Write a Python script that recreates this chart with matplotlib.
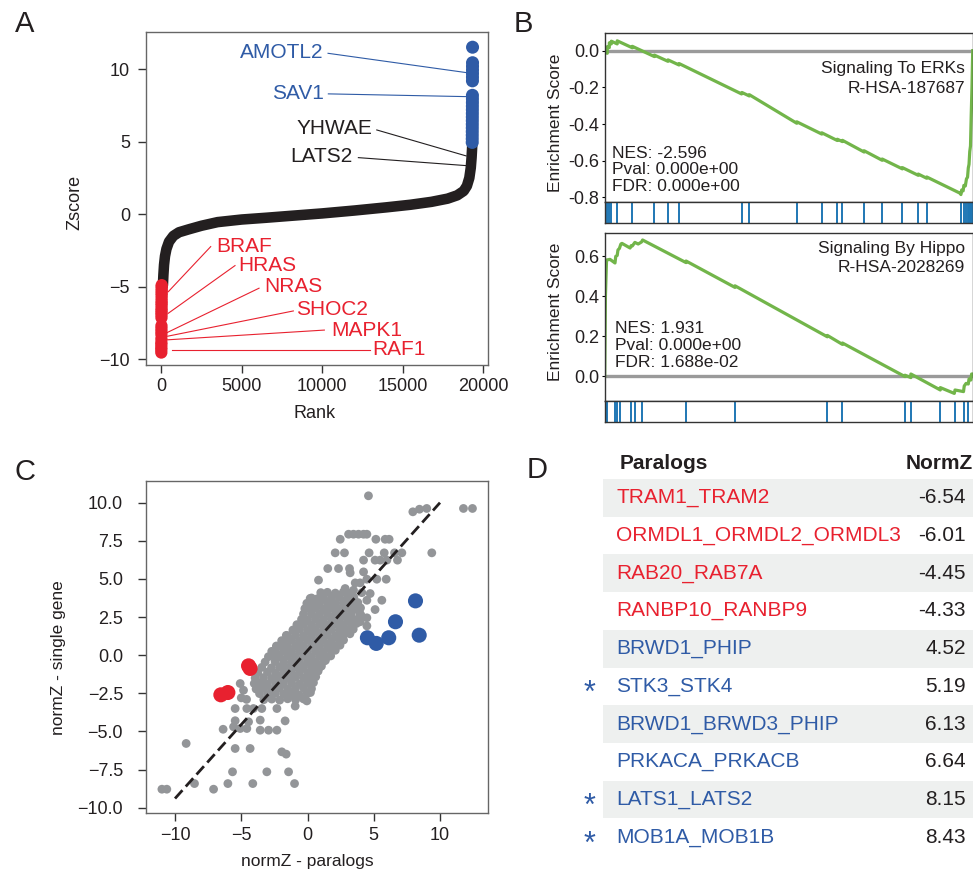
import matplotlib
matplotlib.use('Agg')
import matplotlib.pyplot as plt
from matplotlib.patches import Rectangle

plt.rcParams['font.family'] = ['Liberation Sans', 'DejaVu Sans']
plt.rcParams['axes.linewidth'] = 1.0

# ======================= DATA =======================
# ---- Panel A: ranked gene Z-scores ----
n_genes = 19350
curve_rank = [100, 130, 170, 230, 320, 480, 750, 1100, 1700, 2500, 3500, 5000, 6500, 8000,
              10000, 12000, 14000, 15500, 16800, 17800, 18400, 18800, 19000, 19150, 19240,
              19290, 19320, 19330]
curve_z = [-4.9, -4.2, -3.5, -2.9, -2.4, -1.9, -1.5, -1.25, -1.05, -0.8, -0.55, -0.37, -0.25, -0.12,
           0.05, 0.25, 0.47, 0.65, 0.85, 1.07, 1.3, 1.6, 1.95, 2.5, 3.2, 3.9, 4.5, 4.75]
red_z = [-9.55, -9.35, -9.2, -9.0, -8.85, -8.6, -8.3, -8.1, -7.9, -7.7, -7.15, -6.95, -6.8,
         -6.65, -6.5, -6.3, -6.15, -6.0, -5.8, -5.6, -5.45, -5.3, -5.15, -5.0, -4.9]
blue_z = [4.95, 5.2, 5.45, 5.7, 5.95, 6.2, 6.45, 6.7, 6.95, 7.2, 7.45, 7.7, 7.95, 8.2,
          9.2, 9.45, 9.7, 9.95, 10.2, 10.45, 11.52]
a_up_labels = ['AMOTL2', 'SAV1', 'YHWAE', 'LATS2']
a_down_labels = ['BRAF', 'HRAS', 'NRAS', 'SHOC2', 'MAPK1', 'RAF1']
a_xticks = [0, 5000, 10000, 15000, 20000]
a_yticks = [-10, -5, 0, 5, 10]

# ---- Panel B: GSEA running enrichment scores (x = fraction of ranked list) ----
erk_x = [0.000, 0.004, 0.007, 0.007, 0.0125, 0.0125, 0.018, 0.018, 0.034, 0.034, 0.075, 0.075,
         0.135, 0.135, 0.172, 0.172, 0.202, 0.202, 0.372, 0.373, 0.393, 0.393, 0.522, 0.522,
         0.590, 0.590, 0.632, 0.632, 0.646, 0.646, 0.705, 0.705, 0.754, 0.754, 0.809, 0.809,
         0.852, 0.852, 0.875, 0.875, 0.966, 0.968, 0.970, 0.974, 0.976, 0.980, 0.983, 0.986,
         0.988, 0.990, 0.992, 0.994, 0.996, 0.998, 1.000]
erk_y = [0.000, -0.012, -0.014, 0.022, 0.017, 0.043, 0.037, 0.052, 0.037, 0.054, 0.016, 0.024,
         -0.032, -0.024, -0.058, -0.050, -0.078, -0.070, -0.236, -0.228, -0.247, -0.240, -0.396, -0.388,
         -0.455, -0.448, -0.490, -0.483, -0.496, -0.489, -0.553, -0.546, -0.598, -0.591, -0.645, -0.638,
         -0.680, -0.673, -0.696, -0.689, -0.778, -0.785, -0.760, -0.765, -0.735, -0.738, -0.700, -0.690,
         -0.640, -0.620, -0.550, -0.520, -0.350, -0.200, 0.000]
erk_hits = [0.007, 0.0125, 0.018, 0.034, 0.075, 0.135, 0.172, 0.202, 0.373, 0.393, 0.522, 0.590,
            0.632, 0.646, 0.705, 0.754, 0.809, 0.852, 0.875, 0.967, 0.976, 0.981, 0.986,
            0.990, 0.993, 0.996, 0.999]
hippo_x = [0.000, 0.002, 0.005, 0.0145, 0.028, 0.030, 0.034, 0.036, 0.040, 0.044, 0.047, 0.069,
           0.072, 0.075, 0.082, 0.091, 0.100, 0.103, 0.221, 0.221, 0.354, 0.354, 0.605, 0.605,
           0.646, 0.646, 0.816, 0.816, 0.832, 0.832, 0.912, 0.912, 0.950, 0.952, 0.975, 0.977,
           0.982, 0.988, 0.990, 0.995, 0.997, 1.000]
hippo_y = [0.000, 0.400, 0.580, 0.583, 0.565, 0.598, 0.603, 0.630, 0.638, 0.660, 0.663, 0.640,
           0.652, 0.650, 0.668, 0.660, 0.670, 0.680, 0.567, 0.575, 0.443, 0.451, 0.196, 0.203,
           0.158, 0.165, -0.003, 0.004, -0.008, 0.010, -0.070, -0.058, -0.087, -0.070, -0.078, -0.050,
           -0.037, -0.040, -0.015, -0.020, 0.010, 0.010]
hippo_hits = [0.001, 0.003, 0.005, 0.028, 0.034, 0.042, 0.072, 0.082, 0.100, 0.221, 0.354, 0.605,
              0.646, 0.816, 0.832, 0.912, 0.952, 0.977, 0.988]
b_names = ['Signaling To ERKs', 'Signaling By Hippo']
b_ids = ['R-HSA-187687', 'R-HSA-2028269']
b_nes = ['-2.596', '1.931']
b_pval = ['0.000e+00', '0.000e+00']
b_fdr = ['0.000e+00', '1.688e-02']
b1_yticks = [0.0, -0.2, -0.4, -0.6, -0.8]
b1_yticklabels = ['0.0', '-0.2', '-0.4', '-0.6', '-0.8']
b2_yticks = [0.0, 0.2, 0.4, 0.6]
b2_yticklabels = ['0.0', '0.2', '0.4', '0.6']

# ---- Panel C: normZ paralogs vs single gene ----
grey_core = [
    (-3.3, -2.92), (-2.7, -2.88), (-2.1, -2.95), (-1.5, -2.86), (-0.9, -2.93), (-0.3, -2.87), (-0.05, -3.0),
    (-3.62, -2.52), (-3.0, -2.58), (-2.42, -2.5), (-1.8, -2.57), (-1.2, -2.53), (-0.62, -2.6), (-0.02, -2.5), (0.22, -2.45),
    (-3.88, -2.22), (-3.3, -2.18), (-2.7, -2.25), (-2.12, -2.17), (-1.5, -2.23), (-0.92, -2.2), (-0.3, -2.15), (0.3, -2.2),
    (-4.02, -1.86), (-3.6, -1.82), (-3.02, -1.88), (-2.4, -1.83), (-1.82, -1.87), (-1.2, -1.84), (-0.6, -1.9), (0.0, -1.82), (0.45, -1.8),
    (-3.95, -1.5), (-3.32, -1.47), (-2.7, -1.53), (-2.1, -1.48), (-1.5, -1.52), (-0.9, -1.46), (-0.3, -1.51), (0.3, -1.48), (0.62, -1.42),
    (-3.75, -1.15), (-3.02, -1.12), (-2.4, -1.18), (-1.8, -1.13), (-1.2, -1.17), (-0.6, -1.12), (0.02, -1.16), (0.6, -1.1), (0.8, -1.05),
    (-3.45, -0.8), (-2.72, -0.83), (-2.1, -0.77), (-1.5, -0.82), (-0.9, -0.78), (-0.3, -0.81), (0.3, -0.76), (0.9, -0.8), (1.05, -0.72),
    (-3.2, -0.45), (-2.45, -0.42), (-1.8, -0.47), (-1.2, -0.43), (-0.6, -0.48), (0.0, -0.44), (0.6, -0.46), (1.2, -0.41), (1.35, -0.35),
    (-2.95, -0.1), (-2.5, -0.08), (-2.1, -0.12), (-1.5, -0.07), (-0.9, -0.11), (-0.3, -0.08), (0.3, -0.12), (0.9, -0.07), (1.5, -0.1), (1.75, -0.05),
    (-2.7, 0.25), (-2.4, 0.22), (-1.8, 0.27), (-1.2, 0.23), (-0.6, 0.28), (0.0, 0.22), (0.6, 0.26), (1.2, 0.24), (1.8, 0.28), (2.1, 0.32),
    (-2.35, 0.6), (-2.1, 0.62), (-1.5, 0.57), (-0.9, 0.61), (-0.3, 0.58), (0.3, 0.63), (0.9, 0.59), (1.5, 0.62), (2.1, 0.58), (2.45, 0.65),
    (-1.95, 0.95), (-1.8, 0.92), (-1.2, 0.97), (-0.6, 0.93), (0.0, 0.98), (0.6, 0.94), (1.2, 0.96), (1.8, 0.92), (2.4, 0.97), (2.72, 0.99),
    (-1.6, 1.3), (-1.5, 1.27), (-0.9, 1.32), (-0.3, 1.28), (0.3, 1.33), (0.9, 1.29), (1.5, 1.31), (2.1, 1.27), (2.7, 1.32), (3.2, 1.4),
    (-1.1, 1.65), (-0.6, 1.7), (0.0, 1.62), (0.6, 1.67), (1.2, 1.63), (1.8, 1.68), (2.4, 1.64), (3.0, 1.66), (3.45, 1.7),
    (-0.8, 2.0), (-0.3, 2.03), (0.3, 1.98), (0.9, 2.02), (1.5, 1.97), (2.1, 2.03), (2.7, 1.99), (3.3, 2.02), (3.7, 2.08),
    (-0.45, 2.35), (0.0, 2.32), (0.6, 2.37), (1.2, 2.33), (1.8, 2.38), (2.4, 2.34), (3.0, 2.36), (3.6, 2.32), (3.9, 2.42),
    (-0.3, 2.7), (0.3, 2.72), (0.9, 2.68), (1.5, 2.73), (2.1, 2.69), (2.7, 2.71), (3.3, 2.67), (3.95, 2.75),
    (-0.2, 3.05), (0.2, 3.02), (0.6, 3.07), (1.2, 3.03), (1.8, 3.08), (2.4, 3.04), (3.0, 3.06), (3.6, 3.02), (4.0, 3.1),
    (-0.05, 3.4), (0.3, 3.42), (0.9, 3.38), (1.5, 3.43), (2.1, 3.39), (2.7, 3.41), (3.3, 3.37), (3.8, 3.45),
    (0.3, 3.75), (0.75, 3.7), (1.2, 3.77), (1.8, 3.72), (2.4, 3.78), (3.0, 3.74), (3.5, 3.8),
    (1.0, 4.1), (1.5, 4.12), (2.1, 4.07), (2.7, 4.13), (3.2, 4.05),
]
grey_outliers = [
    (4.60, 10.45), (7.95, 9.40), (8.45, 9.57), (9.0, 9.62), (11.77, 9.62), (12.45, 9.62),
    (2.47, 7.6), (3.1, 7.93), (3.47, 7.93), (3.85, 7.93), (4.23, 7.93), (4.48, 7.93),
    (5.16, 7.6), (5.86, 7.6), (6.16, 7.6),
    (2.09, 6.71), (2.79, 6.71), (4.65, 6.71), (5.79, 6.71), (6.57, 6.71), (7.12, 6.71), (9.38, 6.71),
    (4.23, 6.23), (5.1, 6.23), (5.48, 6.23), (5.99, 6.23), (6.79, 6.23),
    (1.53, 5.68), (2.34, 5.68), (3.17, 5.68), (3.22, 5.4), (4.23, 5.46),
    (0.83, 4.92), (4.48, 4.98), (5.23, 4.98), (5.94, 4.98),
    (3.97, 4.74), (3.6, 4.74), (2.84, 4.37), (3.47, 4.26), (4.73, 4.04), (4.1, 4.1),
    (0.2, 3.72), (0.45, 3.6), (5.61, 3.6), (4.48, 3.6), (5.1, 2.99), (4.03, 2.62),
    (4.48, 2.45), (4.48, 1.92), (3.97, 2.19),
    (-5.08, -1.86), (-4.83, -2.30), (-5.0, -2.8), (-4.6, -2.9), (-5.46, -3.50), (-4.58, -3.50),
    (-4.08, -3.50), (-3.45, -3.50), (-2.31, -3.50), (-0.93, -3.34),
    (-5.46, -4.30), (-4.45, -4.37), (-3.57, -4.26), (-6.37, -4.86), (-5.58, -4.70), (-5.08, -4.81),
    (-4.58, -4.81), (-3.57, -4.92), (-2.94, -4.92), (-2.31, -4.92), (-1.69, -4.31),
    (-9.16, -5.79), (-5.46, -6.12), (-4.33, -6.12), (-1.94, -6.34), (-1.61, -6.49),
    (-5.66, -7.65), (-3.07, -7.65), (-1.43, -7.65),
    (-10.99, -8.79), (-10.62, -8.79), (-8.53, -8.42), (-7.09, -8.79), (-6.01, -8.42),
    (-4.13, -8.42), (-0.98, -8.42),
]
fit_x = [-10, 10]
fit_y = [-9.4, 10.0]
c_xticks = [-10, -5, 0, 5, 10]
c_yticks = [-10, -7.5, -5, -2.5, 0, 2.5, 5, 7.5, 10]

# ---- Panel D: table of top paralog pairs ----
para_names = ['TRAM1_TRAM2', 'ORMDL1_ORMDL2_ORMDL3', 'RAB20_RAB7A', 'RANBP10_RANBP9',
              'BRWD1_PHIP', 'STK3_STK4', 'BRWD1_BRWD3_PHIP', 'PRKACA_PRKACB',
              'LATS1_LATS2', 'MOB1A_MOB1B']
para_normz = [-6.54, -6.01, -4.45, -4.33, 4.52, 5.19, 6.13, 6.64, 8.15, 8.43]
para_single = [-2.6, -2.45, -0.7, -0.87, 1.14, 0.77, 1.14, 2.19, 3.56, 1.31]
para_star = [False, False, False, False, False, True, False, False, True, True]

# ======================= STYLE =======================
RED = '#e8212f'
BLUE = '#2f5ba6'
BLACK = '#231f20'
GREY = '#939598'
GREEN = '#72b54a'
RUG = '#1f77b4'

W, H = 973, 871
fig = plt.figure(figsize=(W / 100, H / 100), dpi=100)


def ax_px(x0, y0, x1, y1):
    return fig.add_axes([x0 / W, 1 - y1 / H, (x1 - x0) / W, (y1 - y0) / H])


def ftext(x, y, s, **kw):
    return fig.text(x / W, 1 - y / H, s, **kw)


def style_spines(ax, color):
    for sp in ax.spines.values():
        sp.set_color(color)
        sp.set_linewidth(1.0)


# ======================= PANEL A =======================
axA = ax_px(146, 32, 488, 365)
axA.plot(curve_rank, curve_z, color=BLACK, lw=7.6, solid_capstyle='round',
         solid_joinstyle='round', zorder=2)
red_rank = list(range(1, len(red_z) + 1))
blue_rank = [n_genes - len(blue_z) + 1 + i for i in range(len(blue_z))]
axA.scatter(red_rank, red_z, s=78, color=RED, edgecolors='none', zorder=3)
axA.scatter(blue_rank, blue_z, s=88, color=BLUE, edgecolors='none', zorder=3)

up_text_xy = [(10056, 11.17), (10118, 8.34), (13147, 5.93), (11903, 3.97)]
up_lines = [((10367, 11.1), (18950, 9.77)), ((10386, 8.3), (18990, 8.11)),
            ((13396, 5.81), (18950, 4.02)), ((12252, 3.9), (18950, 3.35))]
up_colors = [BLUE, BLUE, BLACK, BLACK]
for lbl, (tx, ty), (p0, p1), col in zip(a_up_labels, up_text_xy, up_lines, up_colors):
    axA.text(tx, ty, lbl, color=col, ha='right', va='center', fontsize=15)
    axA.plot([p0[0], p1[0]], [p0[1], p1[1]], color=col, lw=0.8, zorder=1)

down_text_xy = [(3445, -2.24), (4789, -3.51), (6406, -5.0), (8377, -6.56), (10553, -8.0), (13122, -9.37)]
down_lines = [((3072, -2.24), (435, -5.35)), ((4583, -3.55), (435, -6.84)),
              ((6076, -5.11), (272, -8.22)), ((8209, -6.68), (272, -8.45)),
              ((10137, -8.0), (272, -8.68)), ((12978, -9.37), (647, -9.37))]
for lbl, (tx, ty), (p0, p1) in zip(a_down_labels, down_text_xy, down_lines):
    axA.text(tx, ty, lbl, color=RED, ha='left', va='center', fontsize=15)
    axA.plot([p0[0], p1[0]], [p0[1], p1[1]], color=RED, lw=0.8, zorder=4)

axA.set_xlim(-951, 20311)
axA.set_ylim(-10.41, 12.57)
axA.set_xticks(a_xticks)
axA.set_yticks(a_yticks)
axA.tick_params(direction='out', length=5.5, width=1, color='#333333', labelsize=13,
                labelcolor=BLACK)
axA.tick_params(axis='x', pad=4)
axA.tick_params(axis='y', pad=6)
style_spines(axA, '#666666')
ftext(315, 413, 'Rank', ha='center', va='center', fontsize=13, color=BLACK)
ftext(75, 202, 'Zscore', ha='center', va='center', rotation=90, fontsize=13, color=BLACK)

# ======================= PANEL B =======================
def gsea_panel(y0, y1, y2, xs, ys, hits, ylim, yticks, yticklabels):
    ax = ax_px(604.7, y0, 972.7, y1)
    ax.axhline(0, color='#9a9a9a', lw=2.4, zorder=1)
    ax.plot(xs, ys, color=GREEN, lw=2.3, zorder=2, solid_joinstyle='round')
    ax.set_xlim(0, 1)
    ax.set_ylim(*ylim)
    ax.set_xticks([])
    ax.set_yticks(yticks)
    ax.set_yticklabels(yticklabels)
    ax.tick_params(axis='y', length=2.5, width=0.8, labelsize=13, pad=1.5, labelcolor=BLACK)
    style_spines(ax, '#333333')
    axr = ax_px(604.7, y1, 972.7, y2)
    axr.vlines(hits, 0, 1, color=RUG, lw=1.4)
    axr.set_xlim(0, 1)
    axr.set_ylim(0, 1)
    axr.set_xticks([])
    axr.set_yticks([])
    style_spines(axr, '#333333')
    return ax


axB1 = gsea_panel(33.3, 201.7, 223.3, erk_x, erk_y, erk_hits, (-0.824, 0.095),
                  b1_yticks, b1_yticklabels)
axB2 = gsea_panel(233.3, 401, 421.7, hippo_x, hippo_y, hippo_hits, (-0.125, 0.7135),
                  b2_yticks, b2_yticklabels)

bfs = 12.5
ftext(965, 68.3, b_names[0], ha='right', va='center', fontsize=bfs, color=BLACK)
ftext(965, 88.3, b_ids[0], ha='right', va='center', fontsize=bfs, color=BLACK)
ftext(611.7, 153.3, 'NES: ' + b_nes[0], ha='left', va='center', fontsize=bfs, color=BLACK)
ftext(611.7, 170.0, 'Pval: ' + b_pval[0], ha='left', va='center', fontsize=bfs, color=BLACK)
ftext(611.7, 186.7, 'FDR: ' + b_fdr[0], ha='left', va='center', fontsize=bfs, color=BLACK)
ftext(965, 248.3, b_names[1], ha='right', va='center', fontsize=bfs, color=BLACK)
ftext(965, 267.3, b_ids[1], ha='right', va='center', fontsize=bfs, color=BLACK)
ftext(615, 328.3, 'NES: ' + b_nes[1], ha='left', va='center', fontsize=bfs, color=BLACK)
ftext(615, 345.7, 'Pval: ' + b_pval[1], ha='left', va='center', fontsize=bfs, color=BLACK)
ftext(615, 362.7, 'FDR: ' + b_fdr[1], ha='left', va='center', fontsize=bfs, color=BLACK)
ftext(555, 122.5, 'Enrichment Score', ha='center', va='center', rotation=90, fontsize=bfs, color=BLACK)
ftext(555, 311.7, 'Enrichment Score', ha='center', va='center', rotation=90, fontsize=bfs, color=BLACK)

# ======================= PANEL C =======================
axC = ax_px(146, 480.7, 487.7, 813.3)
grey_all = grey_core + grey_outliers
axC.scatter([p[0] for p in grey_all], [p[1] for p in grey_all], s=40, color=GREY,
            edgecolors='none', zorder=1)
axC.plot(fit_x, fit_y, color=BLACK, lw=2.0, dashes=(4, 1.8), zorder=2)
neg = [i for i, v in enumerate(para_normz) if v < 0]
pos = [i for i, v in enumerate(para_normz) if v > 0]
axC.scatter([para_normz[i] for i in neg], [para_single[i] for i in neg], s=118, color=RED,
            edgecolors='none', zorder=3)
axC.scatter([para_normz[i] for i in pos], [para_single[i] for i in pos], s=118, color=BLUE,
            edgecolors='none', zorder=3)
axC.set_xlim(-12.19, 13.6)
axC.set_ylim(-10.37, 11.44)
axC.set_xticks(c_xticks)
axC.set_yticks(c_yticks)
axC.tick_params(direction='out', length=5.5, width=1, color='#333333', labelsize=13,
                labelcolor=BLACK)
axC.tick_params(axis='x', pad=4.5)
axC.tick_params(axis='y', pad=11)
style_spines(axC, '#666666')
ftext(307.5, 861, 'normZ - paralogs', ha='center', va='center', fontsize=12.5, color=BLACK)
ftext(58, 658, 'normZ - single gene', ha='center', va='center', rotation=90, fontsize=12.5,
      color=BLACK)

# ======================= PANEL D =======================
axD = ax_px(560, 440, 973, 871)
axD.set_xlim(560, 973)
axD.set_ylim(871, 440)
axD.axis('off')
row_top = 479.0
row_h = 37.7
axD.text(619.3, 463.3, 'Paralogs', ha='left', va='center', fontsize=15, fontweight='bold',
         color=BLACK)
axD.text(973, 463.3, 'NormZ', ha='right', va='center', fontsize=15, fontweight='bold',
         color=BLACK)
for i, (name, val, star) in enumerate(zip(para_names, para_normz, para_star)):
    y0 = row_top + i * row_h
    yc = y0 + row_h / 2
    col = RED if val < 0 else BLUE
    if i % 2 == 0:
        axD.add_patch(Rectangle((603, y0), 973 - 603, row_h, facecolor='#eef0ef',
                                edgecolor='none', zorder=0))
    axD.text(616.5, yc, name, ha='left', va='center', fontsize=15, color=col, zorder=2)
    axD.text(966, yc, '%.2f' % val, ha='right', va='center', fontsize=15, color=BLACK, zorder=2)
    if star:
        axD.text(590, yc + 15.5, '*', ha='center', va='baseline', fontsize=22, color=BLUE,
                 zorder=2)

# ======================= PANEL LETTERS =======================
ftext(15, 32, 'A', ha='left', va='baseline', fontsize=21, color=BLACK)
ftext(514, 32, 'B', ha='left', va='baseline', fontsize=21, color=BLACK)
ftext(15, 480, 'C', ha='left', va='baseline', fontsize=21, color=BLACK)
ftext(527, 478, 'D', ha='left', va='baseline', fontsize=21, color=BLACK)

fig.savefig('out.png', dpi=100)
